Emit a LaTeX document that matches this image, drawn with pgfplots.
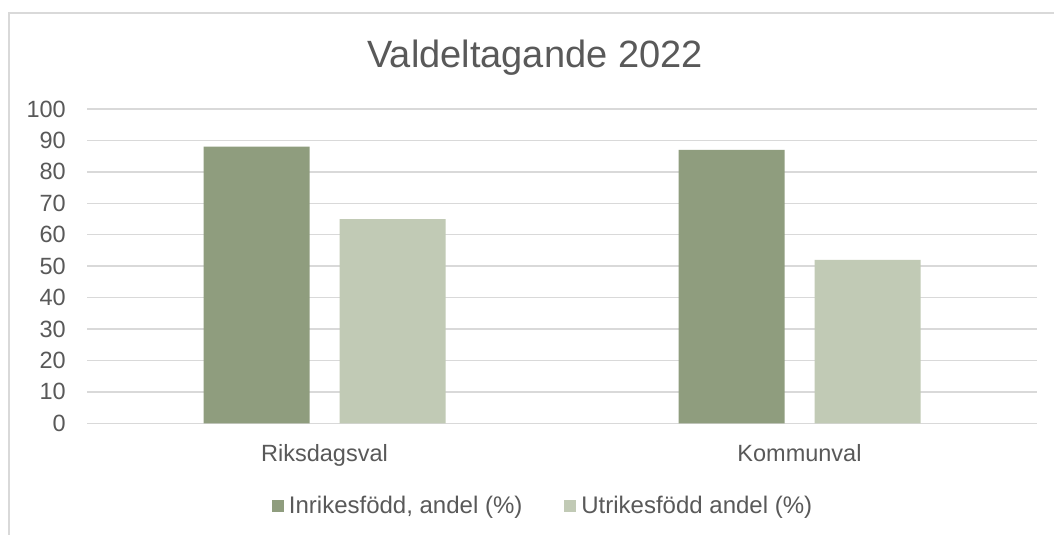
\documentclass[border=0pt]{standalone}
\usepackage{pgfplots}
\pgfplotsset{compat=1.18}
\usepackage{fontspec}
\setmainfont{Liberation Sans}
\definecolor{darkg}{RGB}{143,157,126}
\definecolor{lightg}{RGB}{193,202,181}
\definecolor{gridc}{RGB}{217,217,217}
\definecolor{txt}{RGB}{89,89,89}
\begin{document}
\begin{tikzpicture}
\useasboundingbox[fill=white] (0,0) rectangle (1054bp,535bp);
\draw[color=gridc, line width=1.2bp] (9bp,-2bp) -- (9bp,522bp) -- (1056bp,522bp);
\node[text=txt, font=\fontsize{38bp}{41bp}\selectfont, anchor=base] at (535bp,467bp) {Valdeltagande 2022};
\begin{axis}[
  at={(87bp,111.7bp)}, anchor=south west,
  scale only axis, width=950bp, height=314.3bp,
  xmin=0, xmax=2, ymin=0, ymax=100,
  xtick={0.5,1.5}, xticklabels={Riksdagsval,Kommunval},
  ytick={0,10,...,100},
  axis line style={draw=none},
  major tick length=0pt,
  ymajorgrids, grid style={color=gridc, line width=1.3bp},
  /pgf/number format/assume math mode=true,
  tick label style={text=txt, font=\fontsize{23.5bp}{26bp}\selectfont, inner sep=0pt},
  yticklabel style={xshift=-21bp},
  xticklabel style={yshift=-21bp},
  ybar=30bp, bar width=106bp,
  legend style={at={(0.479,-0.263)}, anchor=center, draw=none, fill=none,
    legend columns=2, font=\fontsize{24bp}{27bp}\selectfont, text=txt,
    nodes={inner sep=0pt},
    /tikz/every even column/.append style={column sep=42bp}},
  legend cell align=left,
  legend image code/.code={\fill[#1] (0bp,-6bp) rectangle (12bp,6bp); \path (17bp,0bp);},
]
\addplot[fill=darkg, draw=none] coordinates {(0.5,88) (1.5,87)};
\addplot[fill=lightg, draw=none] coordinates {(0.5,65) (1.5,52)};
\legend{{Inrikesfödd, andel (\%)},{Utrikesfödd andel (\%)}}
\end{axis}
\end{tikzpicture}
\end{document}
